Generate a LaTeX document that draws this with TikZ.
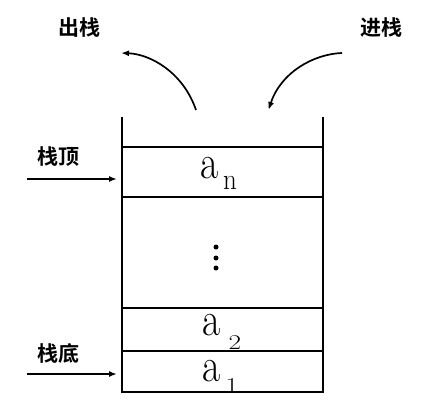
\documentclass[tikz,border=0pt]{standalone}
\usepackage{fontspec}
\newfontfamily\cjk{Noto Sans CJK SC}[BoldFont={* Bold}]
\usetikzlibrary{arrows.meta}
\begin{document}
\begin{tikzpicture}[x=1pt,y=-1pt,
  wall/.style={line width=1.7pt},
  arr/.style={line width=1.7pt,-{Latex[length=8pt,width=6pt]}},
  cjklab/.style={font=\cjk\bfseries\fontsize{21}{21}\selectfont,inner sep=0pt},
  bigA/.style={font=\fontsize{48}{48}\selectfont,inner sep=0pt,anchor=base,xscale=0.82},
  subN/.style={font=\fontsize{30}{30}\selectfont,inner sep=0pt,anchor=base,xscale=0.9},
  subD/.style={font=\fontsize{21}{21}\selectfont,inner sep=0pt,anchor=base,xscale=1.3},
  dotst/.style={fill=black,circle,inner sep=0pt,minimum size=5pt}]
\useasboundingbox (0,0) rectangle (435,405);
% stack walls and dividers
\coordinate (tl) at (122,118);
\coordinate (tr) at (323,118);
\coordinate (bl) at (122,392);
\coordinate (br) at (323,392);
% contents (drawn first so that lines lie on top)
\node[bigA] (an) at (210,178) {a};
\node[subN] (sn) at (230,189) {n};
\node[dotst] (d1) at (216,247) {};
\node[dotst] (d2) at (216,258) {};
\node[dotst] (d3) at (216,268) {};
\node[bigA] (a2) at (212,335) {a};
\node[subD] (s2) at (235,349) {2};
\node[bigA] (a1) at (212,381) {a};
\node[subD] (s1) at (232,392) {1};
\draw[wall,line cap=rect] (tl) -- (bl) -- (br) -- (tr);
\coordinate (l1) at (122,147); \coordinate (r1) at (323,147);
\coordinate (l2) at (122,197); \coordinate (r2) at (323,197);
\coordinate (l3) at (122,308); \coordinate (r3) at (323,308);
\coordinate (l4) at (122,351); \coordinate (r4) at (323,351);
\draw[wall] (l1) -- (r1);
\draw[wall] (l2) -- (r2);
\draw[wall] (l3) -- (r3);
\draw[wall] (l4) -- (r4);
% labels
\node[cjklab] (out) at (79,28) {出栈};
\node[cjklab] (in) at (381,28) {进栈};
\node[cjklab] (top) at (58,157) {栈顶};
\node[cjklab] (bot) at (58.5,353) {栈底};
% arrows
\coordinate (outs) at (196,110);
\coordinate (oute) at (121,53);
\draw[arr] (outs) .. controls (183,72) and (150,54) .. (oute);
\coordinate (ins) at (342,53);
\coordinate (ine) at (268.5,110);
\draw[arr] (ins) .. controls (314,54) and (281,72) .. (ine);
\coordinate (ta) at (27,179);
\coordinate (tb) at (117,179);
\draw[arr] (ta) -- (tb);
\coordinate (ba) at (27,374);
\coordinate (bb) at (117,374);
\draw[arr] (ba) -- (bb);
\end{tikzpicture}
\end{document}
